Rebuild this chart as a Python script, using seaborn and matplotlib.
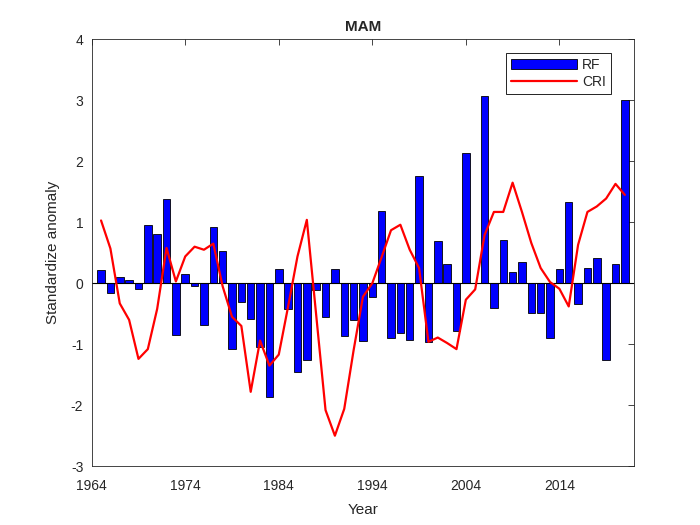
import numpy as np
import pandas as pd
import matplotlib
matplotlib.use("Agg")
import matplotlib.pyplot as plt
import seaborn as sns

sns.set_theme(style="white")
plt.rcParams['font.family'] = ['Liberation Sans', 'DejaVu Sans']
plt.rcParams['axes.unicode_minus'] = False

years = list(range(1965, 2022))

rf = [0.22, -0.16, 0.10, 0.05, -0.10, 0.96, 0.81, 1.39, -0.85, 0.16,
      -0.05, -0.68, 0.93, 0.53, -1.07, -0.30, -0.59, -1.04, -1.86, 0.23,
      -0.43, -1.46, -1.26, -0.11, -0.56, 0.23, -0.86, -0.60, -0.94, -0.22,
      1.18, -0.89, -0.82, -0.93, 1.76, -0.97, 0.69, 0.32, -0.79, 2.14,
      0.01, 3.07, -0.41, 0.71, 0.19, 0.35, -0.49, -0.49, -0.89, 0.24,
      1.33, -0.34, 0.25, 0.42, -1.26, 0.32, 3.00]

cri = [1.03, 0.57, -0.33, -0.60, -1.24, -1.08, -0.42, 0.58, 0.03, 0.44,
       0.60, 0.55, 0.65, -0.05, -0.55, -0.70, -1.78, -0.94, -1.35, -1.17,
       -0.38, 0.44, 1.04, -0.52, -2.08, -2.50, -2.06, -1.10, -0.22, 0.00,
       0.43, 0.87, 0.96, 0.55, 0.25, -0.96, -0.89, -0.98, -1.08, -0.27,
       -0.10, 0.79, 1.17, 1.17, 1.65, 1.17, 0.66, 0.25, 0.02, -0.09,
       -0.38, 0.63, 1.17, 1.26, 1.39, 1.63, 1.45]

df = pd.DataFrame({'Year': years, 'RF': rf, 'CRI': cri})

fig = plt.figure(figsize=(7, 5.25), dpi=100)
ax = fig.add_axes([0.131, 0.112, 0.775, 0.813])

sns.barplot(data=df, x='Year', y='RF', native_scale=True, width=0.8,
            color='#0000ff', saturation=1, edgecolor='black', linewidth=0.6,
            label='RF', ax=ax)
ax.axhline(0, color='black', lw=0.8, zorder=1.5)
sns.lineplot(data=df, x='Year', y='CRI', color='#ff0000', lw=1.6,
             label='CRI', ax=ax)

ax.set_xlim(1964, 2022)
ax.set_ylim(-3, 4)
ax.set_xticks(range(1964, 2015, 10))
ax.set_yticks(range(-3, 5))
ax.set_xlabel('Year', fontsize=11, color='#262626', labelpad=7.5)
ax.set_ylabel('Standardize anomaly', fontsize=11, color='#262626', labelpad=8)
ax.set_title('MAM', fontsize=11, fontweight='bold', pad=6)
ax.tick_params(direction='in', top=True, right=True, length=4, width=0.6,
               labelsize=10, colors='#262626')
ax.tick_params(axis='x', pad=9)
ax.tick_params(axis='y', pad=6)
for s in ax.spines.values():
    s.set_color('#262626')
    s.set_linewidth(0.6)

handles, labels = ax.get_legend_handles_labels()
order = [labels.index('RF'), labels.index('CRI')]
leg = ax.legend([handles[i] for i in order], [labels[i] for i in order],
                loc='upper right', bbox_to_anchor=(0.97, 0.985), fontsize=10,
                handlelength=4.8, handletextpad=0.35, borderpad=0.35,
                labelspacing=0.25, fancybox=False, framealpha=1)
leg.get_frame().set_edgecolor('black')
leg.get_frame().set_linewidth(0.6)

fig.savefig('out.png', dpi=100)
